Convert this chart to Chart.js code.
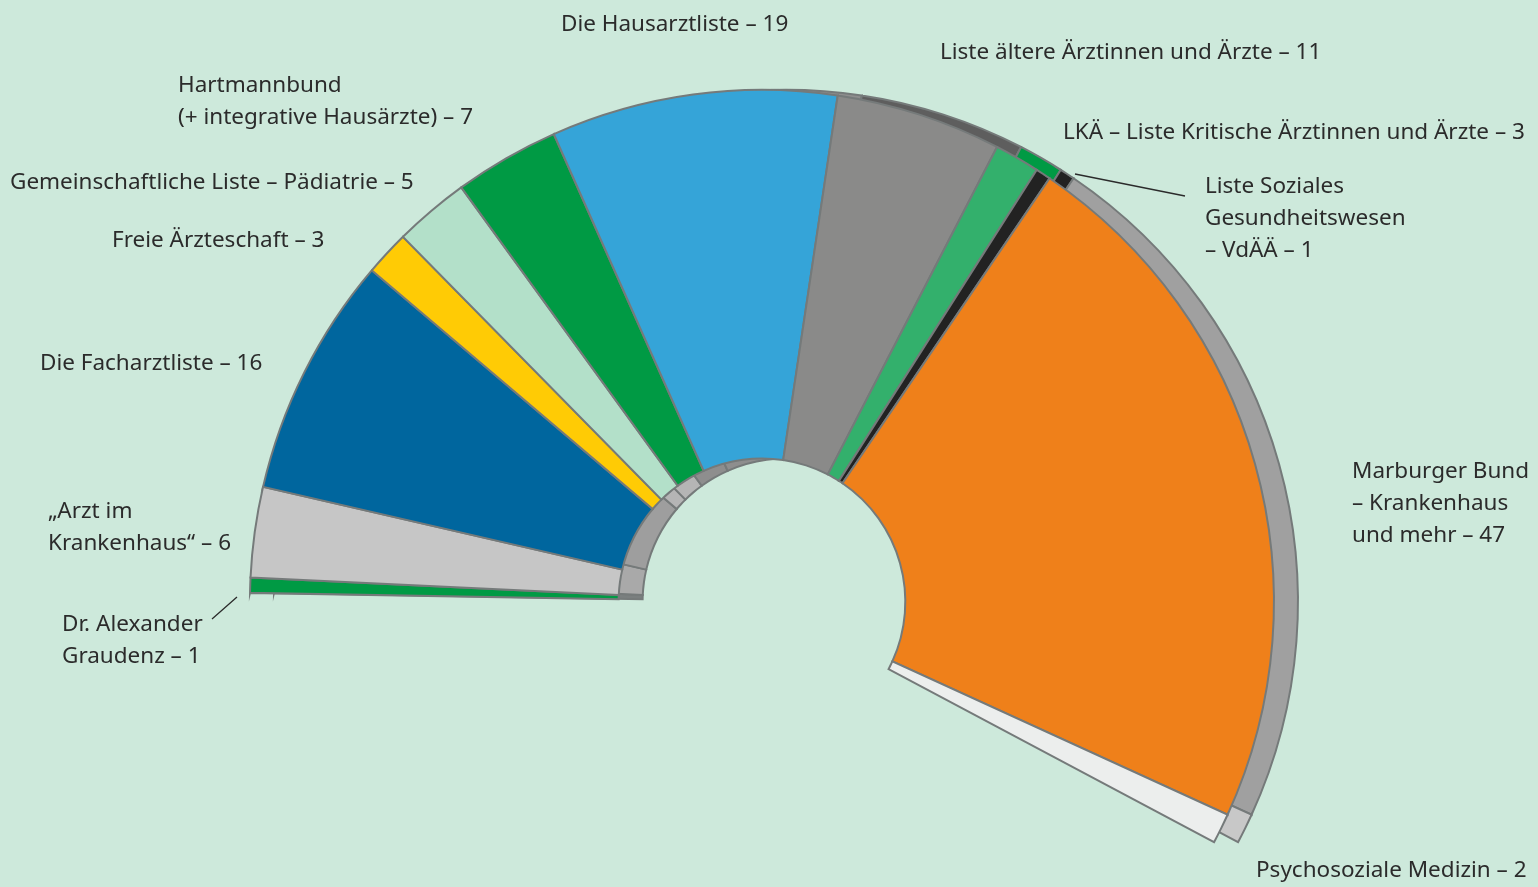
<!DOCTYPE html>
<html lang="de">
<head>
<meta charset="utf-8">
<title>Sitzverteilung</title>
<script src="https://cdn.jsdelivr.net/npm/chart.js@4.4.1/dist/chart.umd.min.js"></script>
<style>
  html, body { margin: 0; padding: 0; }
  body {
    width: 1538px; height: 887px; overflow: hidden; position: relative;
    background: #cde9db;
    font-family: "Noto Sans", sans-serif; color: #2b2b2b;
  }
  .wrap { position: absolute; top: 0; }
  .lbl { position: absolute; font-size: 22.5px; line-height: 32px; white-space: nowrap; }
</style>
</head>
<body>
<div class="wrap" id="backWrap" style="left:24px"><canvas id="back" width="1524" height="932"></canvas></div>
<div class="wrap" id="frontWrap" style="left:0"><canvas id="front" width="1524" height="932"></canvas></div>

<div class="lbl" style="left:561px; top:7px">Die Hausarztliste – 19</div>
<div class="lbl" style="left:940px; top:35px">Liste ältere Ärztinnen und Ärzte – 11</div>
<div class="lbl" style="left:1063px; top:115px">LKÄ – Liste Kritische Ärztinnen und Ärzte – 3</div>
<div class="lbl" style="left:1205px; top:169px">Liste Soziales<br>Gesundheitswesen<br>– VdÄÄ – 1</div>
<div class="lbl" style="left:1352px; top:454px">Marburger Bund<br>– Krankenhaus<br>und mehr – 47</div>
<div class="lbl" style="left:1256px; top:853px">Psychosoziale Medizin – 2</div>
<div class="lbl" style="left:178px; top:68px">Hartmannbund<br>(+ integrative Hausärzte) – 7</div>
<div class="lbl" style="left:10px; top:165px">Gemeinschaftliche Liste – Pädiatrie – 5</div>
<div class="lbl" style="left:112px; top:223px">Freie Ärzteschaft – 3</div>
<div class="lbl" style="left:40px; top:346px">Die Facharztliste – 16</div>
<div class="lbl" style="left:48px; top:494px">„Arzt im<br>Krankenhaus“ – 6</div>
<div class="lbl" style="left:62px; top:607px">Dr. Alexander<br>Graudenz – 1</div>

<script>
// seats per list, clockwise from the left end
const lists = [
  "Dr. Alexander Graudenz",
  "„Arzt im Krankenhaus“",
  "Die Facharztliste",
  "Freie Ärzteschaft",
  "Gemeinschaftliche Liste – Pädiatrie",
  "Hartmannbund (+ integrative Hausärzte)",
  "Die Hausarztliste",
  "Liste ältere Ärztinnen und Ärzte",
  "LKÄ – Liste Kritische Ärztinnen und Ärzte",
  "Liste Soziales Gesundheitswesen – VdÄÄ",
  "Marburger Bund – Krankenhaus und mehr",
  "Psychosoziale Medizin"
];
const seats = [1, 6, 16, 3, 5, 7, 19, 11, 3, 1, 47, 2];

const frontColors = ["#009a44", "#c6c6c6", "#00669e", "#ffcb05", "#b3e0c9", "#009a44",
                     "#35a4d8", "#8a8a89", "#33b06c", "#222222", "#ef801a", "#eceeed"];
const sideColors  = ["#7a7f7f", "#a9a9a9", "#9e9e9e", "#b5b5b5", "#b5b5b5", "#8e8e8e",
                     "#8e8e8e", "#5e5e5e", "#009a44", "#222222", "#a0a0a0", "#c8c8c8"];

const edge = "#757a7a";

// leader lines from the thin slices to their labels
const leaders = {
  id: "leaders",
  afterDraw(chart) {
    const ctx = chart.ctx;
    ctx.save();
    ctx.strokeStyle = "#2b2b2b";
    ctx.lineWidth = 1.3;
    ctx.beginPath();
    ctx.moveTo(237, 597); ctx.lineTo(212, 619);
    ctx.moveTo(1075, 174); ctx.lineTo(1185, 196);
    ctx.stroke();
    ctx.restore();
  }
};

function makeChart(id, colors, plugins) {
  return new Chart(document.getElementById(id), {
    type: "doughnut",
    data: {
      labels: lists,
      datasets: [{
        data: seats,
        backgroundColor: colors,
        borderColor: edge,
        borderWidth: 2,
        borderJoinStyle: "miter"
      }]
    },
    options: {
      responsive: false,
      animation: false,
      rotation: 271,
      circumference: 207,
      radius: 512,
      cutout: "28%",
      plugins: { legend: { display: false }, tooltip: { enabled: false } }
    },
    plugins: plugins || []
  });
}

makeChart("back", sideColors);
makeChart("front", frontColors, [leaders]);
</script>
</body>
</html>
